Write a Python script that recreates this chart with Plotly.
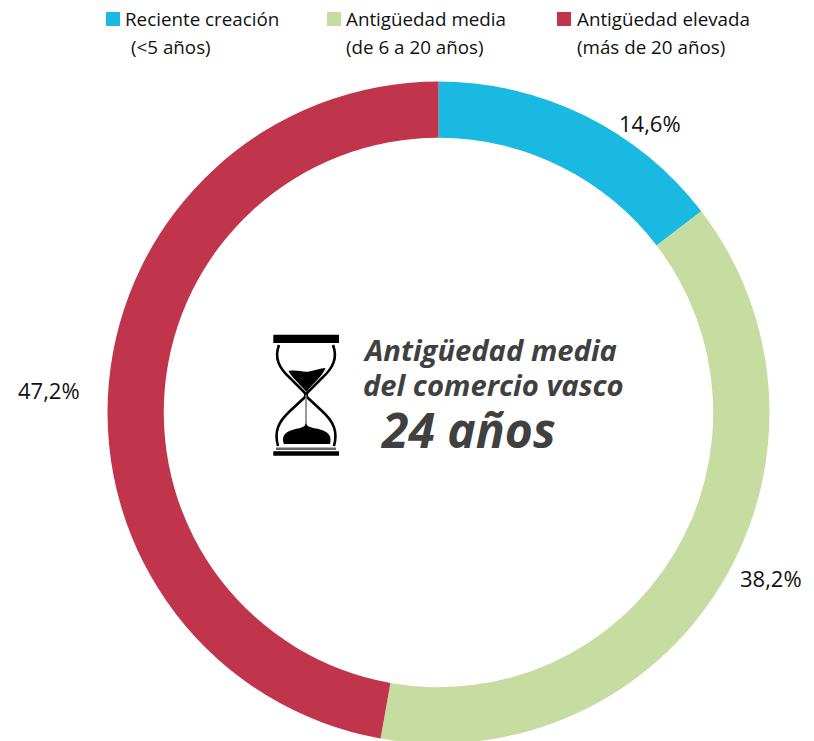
import plotly.graph_objects as go

categories = ["Reciente creación", "Antigüedad media", "Antigüedad elevada"]
subtitles = ["(<5 años)", "(de 6 a 20 años)", "(más de 20 años)"]
values = [14.6, 38.2, 47.2]
colors = ["#19B9E1", "#C7DCA0", "#C0354B"]
center_lines = ["Antigüedad media", "del comercio vasco"]
center_value = "24 años"

W, H = 814, 745
FONT = "Open Sans"
fx = lambda x: x / W
fy = lambda y: 1 - y / H

fig = go.Figure(go.Pie(
    labels=categories, values=values, sort=False, direction="clockwise", rotation=0,
    hole=0.83, marker=dict(colors=colors, line=dict(color="#FFFFFF", width=0)),
    textinfo="none", hoverinfo="label+percent", showlegend=False,
    domain=dict(x=[fx(438.5 - 331), fx(438.5 + 331)], y=[fy(743.5), fy(81.5)]),
))

ann = []
shapes = []
def text(x, y, s, size=20, color="#111111", anchor="left", **kw):
    ann.append(dict(x=fx(x), y=fy(y), xref="paper", yref="paper", text=s, showarrow=False,
                    xanchor=anchor, yanchor="middle", align=anchor,
                    font=dict(family=FONT, size=size, color=color), **kw))

# legend
legend_sq = [106, 327, 557]
legend_tx = [123, 344, 575]
legend_sub = [129, 344, 575]
for c, s, col, q, tx, sx in zip(categories, subtitles, colors, legend_sq, legend_tx, legend_sub):
    shapes.append(dict(type="rect", xref="paper", yref="paper", x0=fx(q), x1=fx(q + 14),
                       y0=fy(12), y1=fy(26), fillcolor=col, line_width=0))
    text(tx, 19, c, size=18.8)
    text(sx, 47, s.replace("<", "&lt;"), size=18.8)

# value labels
label_pos = [(650, 122.5), (771, 577.5), (49, 389.5)]
for v, (x, y) in zip(values, label_pos):
    text(x, y, f"{v:.1f}".replace(".", ",") + "%", size=22, anchor="center")

# centre text
dark = "#404040"
text(361, 349.5, f"<b><i>{center_lines[0]}</i></b>", size=29.2, color=dark)
text(361, 384.5, f"<b><i>{center_lines[1]}</i></b>", size=29.2, color=dark)
text(378, 429, f"<b><i>{center_value}</i></b>", size=48, color=dark)

# hourglass icon
def path(points_cmd):
    out = []
    for tok in points_cmd:
        if isinstance(tok, str):
            out.append(tok)
        else:
            out.append(f"{fx(tok[0]):.5f},{fy(tok[1]):.5f}")
    return " ".join(out)

def add_path(cmd, fill=None, lw=0):
    shapes.append(dict(type="path", xref="paper", yref="paper", path=path(cmd),
                       fillcolor=fill or "rgba(0,0,0,0)",
                       line=dict(color="#000000", width=lw)))

K = "#000000"
def bar(x0, x1, y0, y1, c=K):
    shapes.append(dict(type="rect", xref="paper", yref="paper", x0=fx(x0), x1=fx(x1), y0=fy(y1),
                       y1=fy(y0), fillcolor=c, line_width=0))
bar(273.3, 339, 334.7, 343)
bar(273.3, 339, 451.3, 455.7)
bar(276, 336, 447.5, 450, "#666666")
# glass
add_path(["M", (279, 345), "C", (274, 358), (279, 368), (290, 378), "L", (304, 392),
          "C", (306, 394), (306, 396), (304, 398), "L", (290, 411),
          "C", (278, 422), (274, 432), (278, 446)], lw=2.6)
add_path(["M", (333, 345), "C", (338, 358), (333, 368), (322, 378), "L", (308, 392),
          "C", (306, 394), (306, 396), (308, 398), "L", (322, 411),
          "C", (334, 422), (338, 432), (334, 446)], lw=2.6)
# sand top
add_path(["M", (288.5, 371), "C", (298, 369.5), (302, 372.5), (309, 371.5), "C", (315, 370.5), (320, 368.5), (325.5, 368),
          "C", (323, 376), (312, 384), (306.5, 392), "C", (301, 385), (293, 379), (288.5, 371), "Z"], fill=K)
# sand stream
shapes.append(dict(type="line", xref="paper", yref="paper", x0=fx(306), x1=fx(306), y0=fy(395), y1=fy(426),
                   line=dict(color="#777777", width=1.5)))
# sand bottom
add_path(["M", (284, 444), "C", (280, 434), (289, 430), (298, 428.5), "C", (302, 427.5), (305, 427), (306, 423),
          "C", (307, 427), (311, 427.5), (316, 428.5), "C", (325, 430), (333, 434), (330, 444), "Z"], fill=K)

fig.update_layout(width=W, height=H, margin=dict(l=0, r=0, t=0, b=0), paper_bgcolor="#FFFFFF",
                  annotations=ann, shapes=shapes, font=dict(family=FONT))
fig.write_html("out.html", config=dict(displayModeBar=False),
               post_script="document.body.style.margin='0';document.body.style.overflow='hidden';document.documentElement.style.overflow='hidden';")
